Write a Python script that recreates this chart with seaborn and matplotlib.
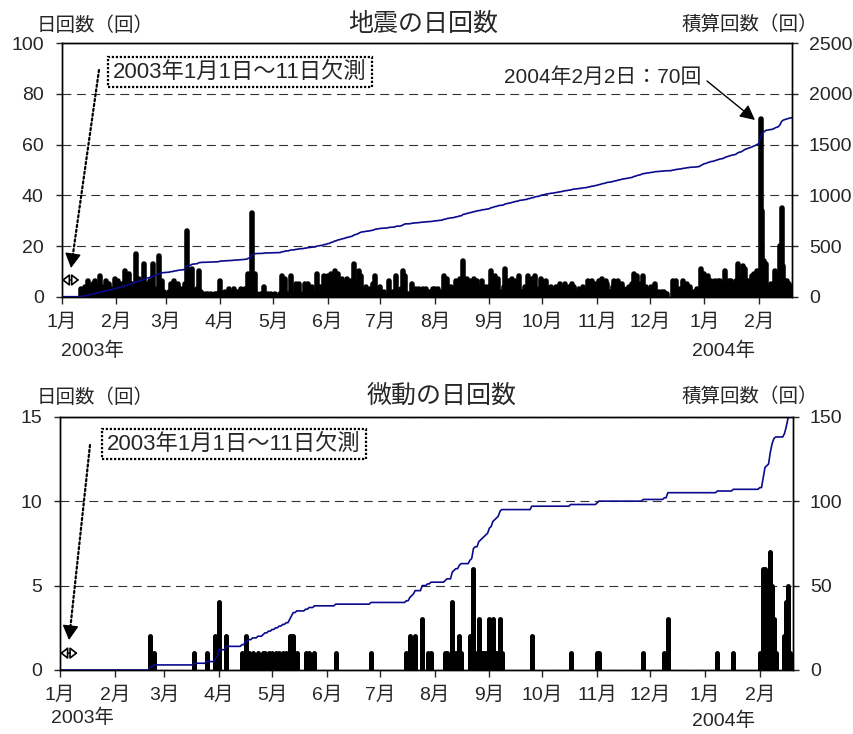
import numpy as np
import pandas as pd
import matplotlib
matplotlib.use("Agg")
import matplotlib.pyplot as plt
import seaborn as sns

# ---------------------------------------------------------------------------
# 地震の日回数 (2003/1/1 - 1/11 欠測, values from 2003/1/12 to 2004/2/20)
jan03 = [3, 2, 4, 2, 6, 2, 3, 5, 6, 2, 4, 8, 2, 4, 6, 2, 5, 3, 2, 7]
feb03 = [4, 6, 2, 5, 3, 10, 4, 9, 3, 5, 2, 17, 3, 7, 2, 4, 13, 3, 5, 6, 2, 13, 3, 2, 16, 3, 6, 2]
mar03 = [1, 1, 2, 5, 1, 6, 1, 5, 2, 3, 1, 5, 26, 10, 2, 11, 2, 1, 3, 10, 2, 1, 0, 1, 1, 0, 1, 0, 1, 1, 1]
apr03 = [6, 1, 0, 2, 0, 3, 1, 0, 3, 0, 2, 0, 3, 0, 3, 1, 9, 2, 33, 2, 9, 1, 0, 1, 0, 4, 0, 1, 0, 1]
may03 = [0, 1, 0, 0, 1, 8, 1, 7, 1, 1, 8, 1, 0, 5, 1, 5, 0, 1, 5, 1, 5, 0, 4, 1, 1, 9, 1, 4, 1, 8, 1]
jun03 = [8, 3, 9, 4, 10, 3, 9, 2, 7, 3, 5, 7, 2, 6, 3, 13, 4, 6, 10, 8, 2, 3, 4, 1, 3, 2, 5, 8, 2, 3]
jul03 = [4, 1, 2, 1, 0, 6, 1, 2, 0, 8, 1, 1, 3, 10, 8, 1, 1, 0, 5, 1, 3, 0, 3, 1, 3, 0, 3, 1, 2, 0, 3]
aug03 = [3, 1, 3, 1, 2, 8, 2, 7, 2, 4, 1, 3, 6, 2, 7, 1, 14, 2, 7, 3, 6, 2, 7, 2, 6, 3, 2, 6, 1, 4, 2]
sep03 = [4, 10, 2, 8, 2, 7, 2, 1, 4, 11, 2, 6, 1, 7, 3, 6, 1, 8, 2, 2, 4, 1, 8, 2, 7, 2, 8, 3, 2, 7]
oct03 = [6, 2, 6, 2, 3, 4, 1, 3, 4, 1, 5, 2, 4, 5, 1, 4, 2, 5, 4, 1, 2, 3, 1, 4, 2, 1, 6, 2, 6, 1, 5]
nov03 = [3, 6, 3, 7, 2, 6, 5, 2, 2, 4, 6, 2, 6, 3, 5, 3, 2, 3, 4, 2, 5, 9, 3, 8, 3, 5, 8, 2, 4, 2]
dec03 = [2, 4, 1, 5, 1, 2, 1, 2, 2, 1, 1, 0, 0, 6, 1, 6, 1, 3, 1, 6, 0, 5, 1, 4, 0, 2, 0, 3, 1, 11, 9]
jan04 = [9, 3, 8, 5, 6, 2, 6, 5, 6, 6, 2, 5, 10, 5, 6, 6, 5, 2, 6, 13, 7, 3, 12, 11, 6, 6, 5, 8, 9, 6, 10]
feb04 = [8, 70, 34, 14, 13, 3, 2, 5, 2, 10, 8, 5, 20, 35, 12, 6, 6, 5, 4, 3]

# 微動の日回数 (days with at least one event)
tremor_dates = [
    "2003-02-21", "2003-02-23", "2003-03-18", "2003-03-25", "2003-03-30", "2003-03-31",
    "2003-04-01", "2003-04-05", "2003-04-14", "2003-04-16", "2003-04-18", "2003-04-20",
    "2003-04-23", "2003-04-26", "2003-04-27", "2003-04-29", "2003-05-01", "2003-05-03",
    "2003-05-05", "2003-05-07", "2003-05-09", "2003-05-11", "2003-05-12", "2003-05-13",
    "2003-05-15", "2003-05-20", "2003-05-22", "2003-05-25", "2003-06-06", "2003-06-26",
    "2003-07-16", "2003-07-18", "2003-07-19", "2003-07-20", "2003-07-21", "2003-07-25",
    "2003-07-28", "2003-07-30", "2003-08-07", "2003-08-08", "2003-08-11", "2003-08-12",
    "2003-08-13", "2003-08-15", "2003-08-16", "2003-08-21", "2003-08-22", "2003-08-23",
    "2003-08-24", "2003-08-26", "2003-08-27", "2003-08-28", "2003-08-29", "2003-08-30",
    "2003-08-31", "2003-09-01", "2003-09-02", "2003-09-03", "2003-09-04", "2003-09-05",
    "2003-09-06", "2003-09-07", "2003-09-08", "2003-09-25", "2003-10-17", "2003-11-01",
    "2003-11-02", "2003-11-27", "2003-12-09", "2003-12-11", "2004-01-08", "2004-01-17",
    "2004-02-01", "2004-02-03", "2004-02-04", "2004-02-05", "2004-02-06", "2004-02-07",
    "2004-02-08", "2004-02-09", "2004-02-10", "2004-02-15", "2004-02-16", "2004-02-17",
    "2004-02-18",
]
tremor_counts = [
    2, 1, 1, 1, 2, 1,
    4, 2, 1, 2, 1, 1,
    1, 1, 1, 1, 1, 1,
    1, 1, 1, 2, 2, 2,
    1, 1, 1, 1, 1, 1,
    1, 2, 1, 1, 2, 3,
    1, 1, 1, 1, 4, 1,
    1, 2, 1, 2, 1, 6,
    1, 3, 1, 1, 1, 1,
    1, 3, 1, 3, 1, 1,
    1, 3, 1, 2, 1, 1,
    1, 1, 1, 3, 1, 1,
    1, 6, 6, 1, 1, 7,
    5, 3, 1, 2, 4, 5,
    1,
]

days = pd.date_range("2003-01-01", "2004-02-20", freq="D")
missing = pd.date_range("2003-01-01", "2003-01-11", freq="D")
months = pd.date_range("2003-01-01", "2004-02-01", freq="MS")
month_labels = [f"{m.month}月" for m in months]

quake = pd.Series(np.nan, index=days)
quake.loc["2003-01-12":] = (jan03 + feb03 + mar03 + apr03 + may03 + jun03 + jul03
                            + aug03 + sep03 + oct03 + nov03 + dec03 + jan04 + feb04)
quake_cum = quake.fillna(0).cumsum()

tremor = pd.Series(0.0, index=days)
tremor.loc[pd.to_datetime(tremor_dates)] = tremor_counts
tremor.loc[missing] = np.nan
tremor_cum = tremor.fillna(0).cumsum()

# ---------------------------------------------------------------------------
sns.set_style("ticks")
plt.rcParams["font.family"] = ["Liberation Sans", "Noto Sans CJK JP"]
plt.rcParams["axes.edgecolor"] = "black"
plt.rcParams["axes.linewidth"] = 1.0

W, H = 854, 734
fig = plt.figure(figsize=(W / 100, H / 100), dpi=100)


def fp(x, y):
    # pixel position (from top-left) -> figure fraction
    return (x / W, 1 - y / H)


def panel(rect, daily, cum, lmax, lstep, rmax, rstep, bar_lw):
    ax = fig.add_axes(rect)
    ax.yaxis.grid(True, linestyle=(0, (8, 5)), color="#333333", lw=0.8)
    d = daily[daily > 0]
    ax.vlines(d.index, 0, d.values, colors="black", linewidth=bar_lw,
              capstyle="round", zorder=2)
    ax.set_ylim(0, lmax)
    ax.set_yticks(np.arange(0, lmax + 1, lstep))
    ax.set_xticks(months)
    ax.set_xticklabels(month_labels)
    ax.tick_params(axis="x", direction="out", length=5, width=1, pad=7, labelsize=14)
    ax.tick_params(axis="y", direction="out", length=4, width=1, pad=9, labelsize=14)

    ax2 = ax.twinx()
    sns.lineplot(x=cum.index, y=cum.values, ax=ax2, color="#0a0a8c", linewidth=1.2)
    ax2.set_ylim(0, rmax)
    ax2.set_yticks(np.arange(0, rmax + 1, rstep))
    ax2.tick_params(axis="y", direction="out", length=4, width=1, pad=8, labelsize=14)
    ax2.set_ylabel("")
    ax.set_xlim(days[0], days[-1])
    for a in (ax, ax2):
        for s in a.spines.values():
            s.set_color("black")
            s.set_linewidth(1.0)
    return ax, ax2


ax_q, ax_q2 = panel([61.7 / W, 1 - 296.7 / H, 730.6 / W, 253.4 / H],
                    quake, quake_cum, 100, 20, 2500, 500, 4.0)
ax_t, ax_t2 = panel([60 / W, 1 - 670 / H, 733.3 / W, 253.3 / H],
                    tremor, tremor_cum, 15, 5, 150, 50, 3.6)

# titles / unit labels / year labels
fig.text(*fp(423, 24), "地震の日回数", ha="center", va="center", fontsize=18)
fig.text(*fp(442, 396), "微動の日回数", ha="center", va="center", fontsize=18)
for y in (26, 398):
    fig.text(*fp(95, y), "日回数（回）", ha="center", va="center", fontsize=14)
    fig.text(*fp(750, y - 1), "積算回数（回）", ha="center", va="center", fontsize=14)
fig.text(*fp(93, 351), "2003年", ha="center", va="center", fontsize=14)
fig.text(*fp(724, 351), "2004年", ha="center", va="center", fontsize=14)
fig.text(*fp(83, 718), "2003年", ha="center", va="center", fontsize=14)
fig.text(*fp(724, 721), "2004年", ha="center", va="center", fontsize=14)

# 欠測 notes
box = dict(boxstyle="square,pad=0.22", fc="white", ec="black", ls=(0, (1, 0.8)), lw=1.6)
fig.text(*fp(240, 72), "2003年1月1日～11日欠測", ha="center", va="center",
         fontsize=16, bbox=box)
fig.text(*fp(234, 444), "2003年1月1日～11日欠測", ha="center", va="center",
         fontsize=16, bbox=box)

for (x0, y0), (x1, y1) in [((99, 70), (71, 268)), ((90, 445), (69, 640))]:
    ux, uy = x1 - x0, y1 - y0
    n = np.hypot(ux, uy)
    ux, uy = ux / n, uy / n
    hx, hy = x1 - 13 * ux, y1 - 13 * uy
    fig.add_artist(matplotlib.patches.FancyArrowPatch(
        fp(x0, y0), fp(hx, hy), transform=fig.transFigure, arrowstyle="-",
        linestyle=(0, (1, 1.2)), lw=1.6, color="black", shrinkA=0, shrinkB=0))
    fig.add_artist(matplotlib.patches.FancyArrowPatch(
        fp(hx - ux, hy - uy), fp(x1, y1), transform=fig.transFigure,
        arrowstyle="-|>,head_length=0.6,head_width=0.33", mutation_scale=15,
        lw=1, color="black", shrinkA=0, shrinkB=0))

for ax, yv in [(ax_q, 6.6), (ax_t, 1.0)]:
    ax.annotate("", xy=(days[0], yv), xytext=(missing[-1], yv),
                arrowprops=dict(arrowstyle="<|-|>,head_length=0.45,head_width=0.35",
                                fc="white", ec="black", lw=1.2, mutation_scale=10,
                                shrinkA=0, shrinkB=0))

# 最大日回数
fig.text(*fp(603, 77), "2004年2月2日：70回", ha="center", va="center", fontsize=15)
fig.add_artist(matplotlib.patches.FancyArrowPatch(
    fp(707, 81), fp(755, 120), transform=fig.transFigure,
    arrowstyle="-|>,head_length=0.6,head_width=0.3", mutation_scale=15,
    lw=1, color="black", shrinkA=0, shrinkB=0))

fig.savefig("out.png", dpi=100)
